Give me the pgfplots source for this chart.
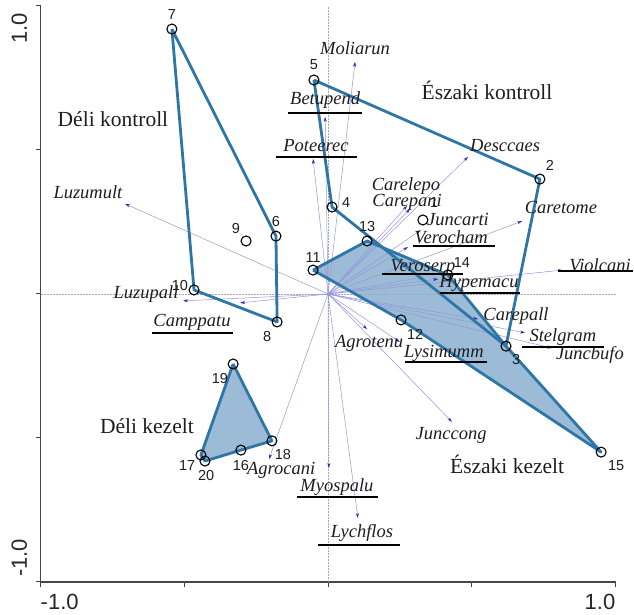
\documentclass[border=0pt]{standalone}
\usepackage{fontspec}
\setmainfont{Liberation Serif}
\newfontfamily\arial{Liberation Sans}
\usepackage{pgfplots}
\pgfplotsset{compat=1.18}
\usetikzlibrary{arrows.meta}
\definecolor{hullline}{RGB}{45,118,166}
\definecolor{hullfill}{RGB}{155,187,215}
\definecolor{arrowline}{RGB}{150,150,215}
\definecolor{arrowtip}{RGB}{40,40,170}
\definecolor{axisgray}{RGB}{70,70,70}
\definecolor{zerogray}{RGB}{165,165,190}
\definecolor{txt}{RGB}{30,30,30}
\pgfplotstableread{
x y u v
0 0 0.094 0.806
0 0 -0.010 0.615
0 0 -0.052 0.469
0 0 -0.706 0.313
0 0 -0.504 -0.024
0 0 -0.306 -0.031
0 0 -0.205 -0.573
0 0 0.003 -0.604
0 0 0.104 -0.778
0 0 0.136 -0.122
0 0 0.250 -0.167
0 0 0.431 -0.444
0 0 0.522 -0.087
0 0 0.685 -0.135
0 0 0.779 -0.188
0 0 0.817 0.083
0 0 0.383 0.052
0 0 0.330 0.059
0 0 0.278 0.163
0 0 0.323 0.222
0 0 0.285 0.295
0 0 0.275 0.306
0 0 0.487 0.476
0 0 0.675 0.253
}\species
\pgfplotstableread{
x y
0.330 0.257
0.737 0.399
0.619 -0.181
0.014 0.302
-0.049 0.743
-0.181 0.201
-0.543 0.920
-0.177 -0.097
-0.285 0.184
-0.466 0.014
-0.052 0.083
0.254 -0.090
0.136 0.184
0.417 0.066
0.950 -0.549
-0.303 -0.542
-0.442 -0.559
-0.195 -0.510
-0.330 -0.243
-0.428 -0.580
}\sites
\tikzset{
  sp/.style={font=\itshape\fontsize{18.5}{18.5}\selectfont, text=txt, inner sep=0pt},
  num/.style={font=\arial\fontsize{14.5}{14.5}\selectfont, text=txt, inner sep=0pt},
  grp/.style={font=\fontsize{21.5}{21.5}\selectfont, text=txt, inner sep=0pt, anchor=base},
  ul/.style={line width=1.3pt, black},
  tl/.style={font=\arial\fontsize{22}{22}\selectfont, text=black!85, inner sep=0pt}
}
\begin{document}
\begin{tikzpicture}
\begin{axis}[
  x=287.5pt, y=288pt,
  xmin=-1, xmax=1, ymin=-1, ymax=1,
  axis x line*=bottom, axis y line*=left,
  axis line style={draw=axisgray, line width=1.2pt},
  xtick={-1,-0.5,0,0.5,1}, ytick={-1,-0.5,0,0.5,1},
  xticklabels={}, yticklabels={},
  tick align=outside, major tick length=5pt,
  tick style={draw=axisgray, line width=1pt},
  clip=false,
]
% filled hulls
\addplot[fill=hullfill, draw=none] coordinates {(-0.052,0.083) (0.136,0.184) (0.417,0.066) (0.619,-0.181) (0.950,-0.549) (0.254,-0.090) (-0.052,0.083)};
\addplot[fill=hullfill, draw=none] coordinates {(-0.330,-0.243) (-0.195,-0.510) (-0.303,-0.542) (-0.428,-0.580) (-0.442,-0.559) (-0.330,-0.243)};
% zero lines
\addplot[zerogray, densely dotted, line width=0.5pt] coordinates {(-1,0) (1,0)};
\addplot[zerogray, densely dotted, line width=0.5pt] coordinates {(0,-1) (0,1)};
% species arrows
\addplot[draw=arrowline, line width=0.5pt, no markers,
  quiver={u=\thisrow{u}, v=\thisrow{v},
  every arrow/.append style={-{Stealth[length=5pt,width=3pt,color=arrowtip]}}}] table {\species};
% hull outlines
\addplot[hullline, line width=2.8pt, line join=round] coordinates {(-0.543,0.920) (-0.181,0.201) (-0.177,-0.097) (-0.466,0.014) (-0.543,0.920)};
\addplot[hullline, line width=2.8pt, line join=round] coordinates {(-0.049,0.743) (0.737,0.399) (0.619,-0.181) (0.014,0.302) (-0.049,0.743)};
\addplot[hullline, line width=2.8pt, line join=round] coordinates {(-0.052,0.083) (0.136,0.184) (0.417,0.066) (0.619,-0.181) (0.950,-0.549) (0.254,-0.090) (-0.052,0.083)};
\addplot[hullline, line width=2.8pt, line join=round] coordinates {(-0.330,-0.243) (-0.195,-0.510) (-0.303,-0.542) (-0.428,-0.580) (-0.442,-0.559) (-0.330,-0.243)};
% sites
\addplot[only marks, mark=o, mark size=5pt, mark options={line width=1.1pt, draw=black}] table {\sites};
% site numbers
\node[num] at (axis cs:0.369,0.316) {1};
\node[num] at (axis cs:0.772,0.448) {2};
\node[num] at (axis cs:0.654,-0.229) {3};
\node[num] at (axis cs:0.063,0.319) {4};
\node[num] at (axis cs:-0.049,0.795) {5};
\node[num] at (axis cs:-0.181,0.250) {6};
\node[num] at (axis cs:-0.543,0.972) {7};
\node[num] at (axis cs:-0.212,-0.149) {8};
\node[num] at (axis cs:-0.320,0.229) {9};
\node[num] at (axis cs:-0.515,0.028) {10};
\node[num] at (axis cs:-0.052,0.128) {11};
\node[num] at (axis cs:0.303,-0.142) {12};
\node[num] at (axis cs:0.136,0.233) {13};
\node[num] at (axis cs:0.466,0.108) {14};
\node[num] at (axis cs:1.002,-0.597) {15};
\node[num] at (axis cs:-0.303,-0.594) {16};
\node[num] at (axis cs:-0.490,-0.594) {17};
\node[num] at (axis cs:-0.157,-0.556) {18};
\node[num] at (axis cs:-0.376,-0.292) {19};
\node[num] at (axis cs:-0.424,-0.632) {20};
% species labels
\node[sp] at (axis cs:0.094,0.854) {Moliarun};
\node[sp] at (axis cs:-0.010,0.674) {Betupend};
\node[sp] at (axis cs:-0.042,0.514) {Poteerec};
\node[sp] at (axis cs:-0.835,0.354) {Luzumult};
\node[sp] at (axis cs:-0.633,0.000) {Luzupall};
\node[sp] at (axis cs:-0.473,-0.097) {Camppatu};
\node[sp] at (axis cs:-0.163,-0.611) {Agrocani};
\node[sp] at (axis cs:0.031,-0.670) {Myospalu};
\node[sp] at (axis cs:0.118,-0.830) {Lychflos};
\node[sp] at (axis cs:0.143,-0.170) {Agrotenu};
\node[sp] at (axis cs:0.403,-0.205) {Lysimumm};
\node[sp] at (axis cs:0.428,-0.490) {Junccong};
\node[sp] at (axis cs:0.654,-0.076) {Carepall};
\node[sp] at (axis cs:0.817,-0.149) {Stelgram};
\node[sp] at (axis cs:0.911,-0.212) {Juncbufo};
\node[sp] at (axis cs:0.946,0.101) {Violcani};
\node[sp] at (axis cs:0.525,0.035) {Hypemacu};
\node[sp] at (axis cs:0.330,0.094) {Veroserp};
\node[sp] at (axis cs:0.428,0.198) {Verocham};
\node[sp] at (axis cs:0.452,0.257) {Juncarti};
\node[sp] at (axis cs:0.275,0.319) {Carepani};
\node[sp] at (axis cs:0.271,0.375) {Carelepo};
\node[sp] at (axis cs:0.616,0.517) {Desccaes};
\node[sp] at (axis cs:0.810,0.299) {Caretome};
% underlines
\draw[ul] (axis cs:-0.139,0.628) -- (axis cs:0.118,0.628);
\draw[ul] (axis cs:-0.181,0.476) -- (axis cs:0.101,0.476);
\draw[ul] (axis cs:-0.612,-0.135) -- (axis cs:-0.330,-0.135);
\draw[ul] (axis cs:-0.108,-0.705) -- (axis cs:0.174,-0.705);
\draw[ul] (axis cs:-0.035,-0.872) -- (axis cs:0.250,-0.872);
\draw[ul] (axis cs:0.268,-0.236) -- (axis cs:0.553,-0.236);
\draw[ul] (axis cs:0.675,-0.184) -- (axis cs:0.960,-0.184);
\draw[ul] (axis cs:0.800,0.080) -- (axis cs:1.061,0.080);
\draw[ul] (axis cs:0.390,0.003) -- (axis cs:0.668,0.003);
\draw[ul] (axis cs:0.188,0.069) -- (axis cs:0.470,0.069);
\draw[ul] (axis cs:0.296,0.167) -- (axis cs:0.581,0.167);
% group labels
\node[grp] at (axis cs:-0.748,0.583) {Déli kontroll};
\node[grp] at (axis cs:0.553,0.677) {Északi kontroll};
\node[grp] at (axis cs:-0.630,-0.483) {Déli kezelt};
\node[grp] at (axis cs:0.623,-0.625) {Északi kezelt};
% tick labels
\node[tl, anchor=base west] at (axis cs:-1,-1.094) {-1.0};
\node[tl, anchor=base east] at (axis cs:1,-1.094) {1.0};
\node[tl, rotate=90, anchor=base east] at (axis cs:-1.047,0.976) {1.0};
\node[tl, rotate=90, anchor=base west] at (axis cs:-1.047,-0.983) {-1.0};
\coordinate (bbBL) at (axis cs:-1.1409,-1.1146);
\coordinate (bbTR) at (axis cs:1.0643,1.0208);
\end{axis}
\pgfresetboundingbox
\useasboundingbox (bbBL) rectangle (bbTR);
\end{tikzpicture}
\end{document}
